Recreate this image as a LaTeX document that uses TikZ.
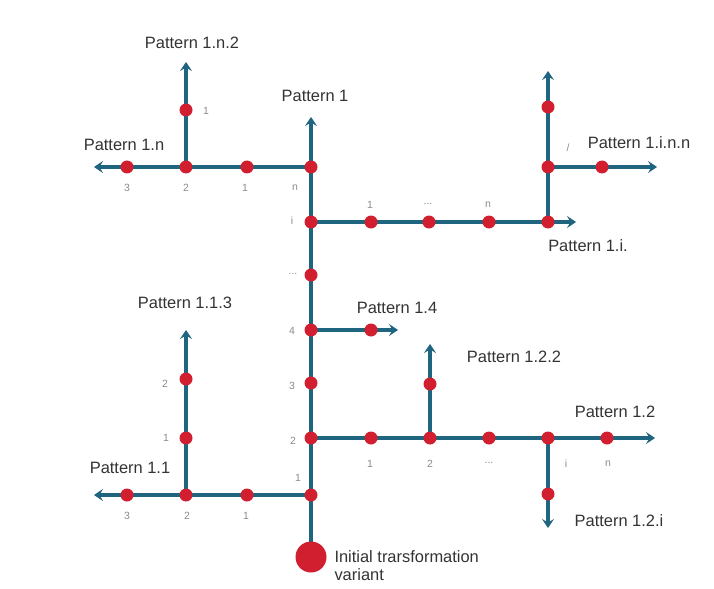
\documentclass[tikz,border=0pt]{standalone}
\usepackage{fontspec}
\setmainfont{Liberation Sans}
\usepackage{tikz}
\usetikzlibrary{arrows.meta,backgrounds,positioning}
\definecolor{trunkblue}{HTML}{1F6580}
\definecolor{stepred}{HTML}{D21F30}
\definecolor{numgray}{HTML}{8A8A8A}
\definecolor{labelink}{HTML}{333333}
\tikzset{
  pathline/.style={draw=trunkblue, line width=3.2bp},
  patharrow/.style={pathline, -{Stealth[length=9bp,width=12bp,inset=3.5bp]}},
  stepdot/.style={circle, fill=stepred, inner sep=0pt, minimum size=13bp},
  startdot/.style={circle, fill=stepred, inner sep=0pt, minimum size=31bp},
  patlabel/.style={font=\fontsize{16.5}{18}\selectfont, text=labelink},
  numlabel/.style={font=\fontsize{10.5}{12}\selectfont, text=numgray}
}
\begin{document}
\begin{tikzpicture}[x=1bp, y=-1bp]
  \useasboundingbox (0,0) rectangle (714,589);

  % trunk
  \node[startdot] (s0) at (311,557) {};
  \node[stepdot] (t1) at (311,495) {};
  \node[stepdot] (t2) at (311,438) {};
  \node[stepdot] (t3) at (311,383) {};
  \node[stepdot] (t4) at (311,330) {};
  \node[stepdot] (td) at (311,275) {};
  \node[stepdot] (ti) at (311,222) {};
  \node[stepdot] (tn) at (311,167) {};
  \coordinate (tend) at (311,117);

  % branch 1.n
  \node[stepdot] (a1) at (247,167) {};
  \node[stepdot] (a2) at (186,167) {};
  \node[stepdot] (a3) at (127,167) {};
  \coordinate (aend) at (94,167);
  \node[stepdot] (a21) at (186,110) {};
  \coordinate (a2end) at (186,62);

  % branch 1.i
  \node[stepdot] (b1) at (371,222) {};
  \node[stepdot] (b2) at (429,222) {};
  \node[stepdot] (b3) at (489,222) {};
  \node[stepdot] (b4) at (548,222) {};
  \coordinate (bend) at (576,222);
  \node[stepdot] (b41) at (548,167) {};
  \node[stepdot] (b42) at (548,107) {};
  \coordinate (b4end) at (548,71);
  \node[stepdot] (b411) at (602,167) {};
  \coordinate (b41end) at (657,167);

  % branch 1.4
  \node[stepdot] (c1) at (371,330) {};
  \coordinate (cend) at (398,330);

  % branch 1.2
  \node[stepdot] (d1) at (371,438) {};
  \node[stepdot] (d2) at (430,438) {};
  \node[stepdot] (d3) at (489,438) {};
  \node[stepdot] (d4) at (548,438) {};
  \node[stepdot] (d5) at (607,438) {};
  \coordinate (dend) at (655,438);
  \node[stepdot] (d21) at (430,384) {};
  \coordinate (d2end) at (430,344);
  \node[stepdot] (d41) at (548,494) {};
  \coordinate (d4end) at (548,528);

  % branch 1.1
  \node[stepdot] (e1) at (247,495) {};
  \node[stepdot] (e2) at (186,495) {};
  \node[stepdot] (e3) at (127,495) {};
  \coordinate (eend) at (94,495);
  \node[stepdot] (e21) at (186,438) {};
  \node[stepdot] (e22) at (186,379) {};
  \coordinate (e2end) at (186,330);

  \begin{scope}[on background layer]
    \draw[patharrow] (s0.center) -- (tend);
    \draw[patharrow] (tn.center) -- (aend);
    \draw[patharrow] (a2.center) -- (a2end);
    \draw[patharrow] (ti.center) -- (bend);
    \draw[patharrow] (b4.center) -- (b4end);
    \draw[patharrow] (b41.center) -- (b41end);
    \draw[patharrow] (t4.center) -- (cend);
    \draw[patharrow] (t2.center) -- (dend);
    \draw[patharrow] (d2.center) -- (d2end);
    \draw[patharrow] (d4.center) -- (d4end);
    \draw[patharrow] (t1.center) -- (eend);
    \draw[patharrow] (e2.center) -- (e2end);
  \end{scope}

  % step numbers
  \node[numlabel] (nt1) at (298,478) {1};
  \node[numlabel] (nt2) at (293,441) {2};
  \node[numlabel] (nt3) at (292,386) {3};
  \node[numlabel] (nt4) at (292,331) {4};
  \node[numlabel] (ntd) at (293,274) {...};
  \node[numlabel] (nti) at (292,221) {i};
  \node[numlabel] (ntn) at (295,188) {n};
  \node[numlabel] (na1) at (245,188) {1};
  \node[numlabel] (na2) at (186,188) {2};
  \node[numlabel] (na3) at (127,188) {3};
  \node[numlabel] (na21) at (206,111) {1};
  \node[numlabel] (nb1) at (370,205) {1};
  \node[numlabel] (nb2) at (428,204) {...};
  \node[numlabel] (nb3) at (488,205) {n};
  \node[numlabel] (nb41) at (568,148) {/};
  \node[numlabel] (nd1) at (370,464) {1};
  \node[numlabel] (nd2) at (430,464) {2};
  \node[numlabel] (nd3) at (489,463) {...};
  \node[numlabel] (nd4) at (566,464) {i};
  \node[numlabel] (nd5) at (608,464) {n};
  \node[numlabel] (ne1) at (246,516) {1};
  \node[numlabel] (ne2) at (187,516) {2};
  \node[numlabel] (ne3) at (127,516) {3};
  \node[numlabel] (ne21) at (166,438) {1};
  \node[numlabel] (ne22) at (165,384) {2};

  % pattern names
  \node[patlabel] (p1) at (315,96) {Pattern 1};
  \node[patlabel] (p1n) at (124,145) {Pattern 1.n};
  \node[patlabel] (p1n2) at (192,43) {Pattern 1.n.2};
  \node[patlabel] (p1inn) at (639,143) {Pattern 1.i.n.n};
  \node[patlabel] (p1i) at (588,246) {Pattern 1.i.};
  \node[patlabel] (p14) at (397,308) {Pattern 1.4};
  \node[patlabel] (p113) at (185,303) {Pattern 1.1.3};
  \node[patlabel] (p122) at (514,357) {Pattern 1.2.2};
  \node[patlabel] (p12) at (615,412) {Pattern 1.2};
  \node[patlabel] (p11) at (130,468) {Pattern 1.1};
  \node[patlabel] (p12i) at (619,521) {Pattern 1.2.i};
  \node[patlabel, align=left, anchor=west] (pinit) at (331,566)
    {Initial trarsformation\\variant};
\end{tikzpicture}
\end{document}
